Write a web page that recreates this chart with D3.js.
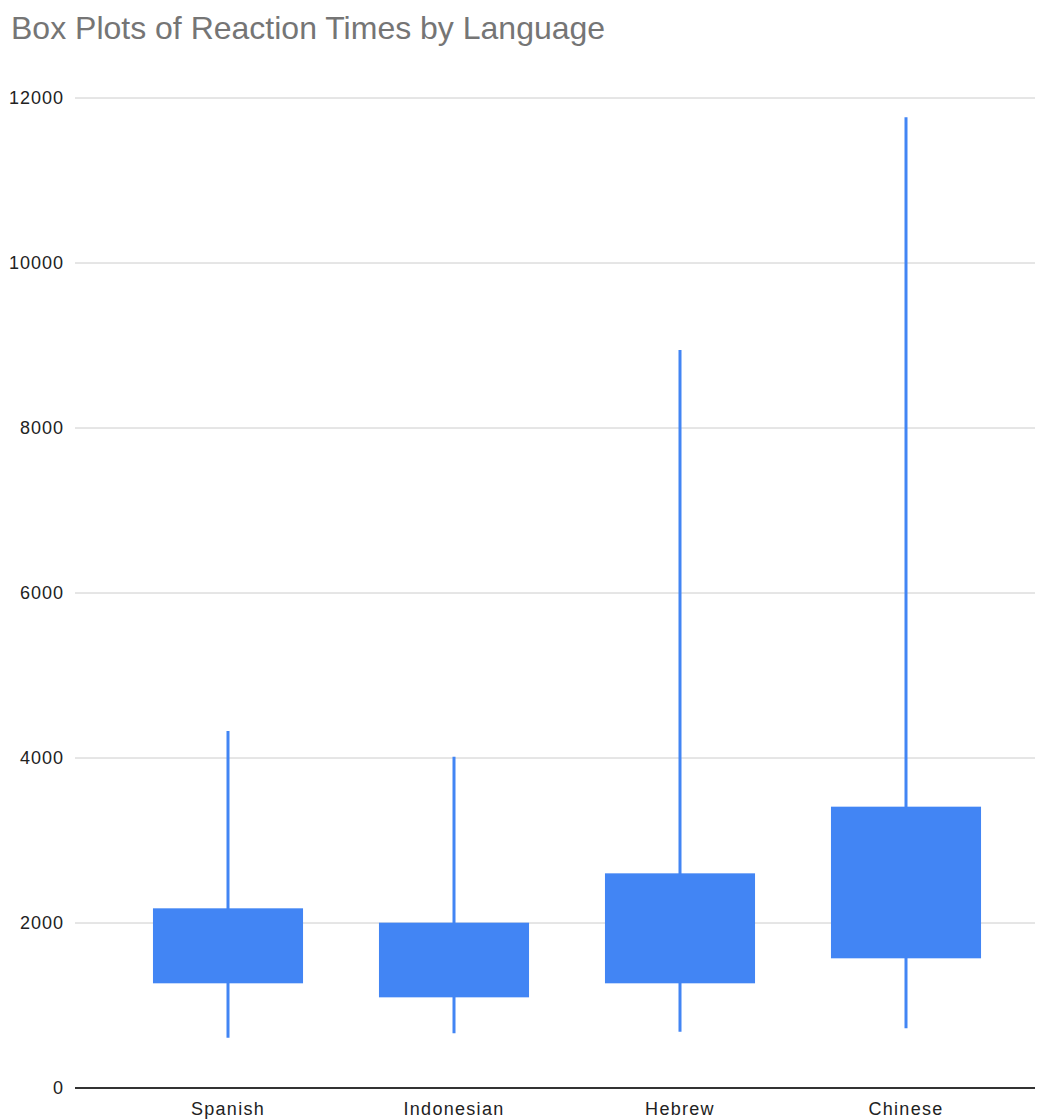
<!DOCTYPE html>
<meta charset="utf-8">
<html>
<head>
<script src="https://d3js.org/d3.v7.min.js"></script>
<style>
  body { margin: 0; background: #fff; }
  text { font-family: "Liberation Sans", Arial, sans-serif; }
</style>
</head>
<body>
<div id="chart"></div>
<script>
// data
var languages = ["Spanish", "Indonesian", "Hebrew", "Chinese"];
var whiskerLow  = [610, 663, 682, 724];
var boxLow      = [1269, 1099, 1269, 1572];
var boxHigh     = [2178, 2004, 2602, 3410];
var whiskerHigh = [4327, 4016, 8945, 11766];
var yTicks = [0, 2000, 4000, 6000, 8000, 10000, 12000];

var W = 1050, H = 1119;
var plotLeft = 75, plotRight = 1035, plotTop = 98, plotBottom = 1088;

var svg = d3.select("#chart").append("svg")
  .attr("width", W)
  .attr("height", H);

svg.append("text")
  .attr("x", 11)
  .attr("y", 39)
  .attr("fill", "#757575")
  .style("font-size", "32px")
  .text("Box Plots of Reaction Times by Language");

var y = d3.scaleLinear().domain([0, 12000]).range([plotBottom, plotTop]);
var x = d3.scaleBand().domain(languages).range([115, 1019]).paddingInner(0.336).paddingOuter(0.168);

// gridlines
svg.append("g").selectAll("line")
  .data(yTicks.filter(function(d) { return d > 0; }))
  .enter().append("line")
  .attr("x1", plotLeft).attr("x2", plotRight)
  .attr("y1", function(d) { return y(d); })
  .attr("y2", function(d) { return y(d); })
  .attr("stroke", "#cccccc")
  .attr("stroke-width", 1);

// y labels
svg.append("g").selectAll("text")
  .data(yTicks)
  .enter().append("text")
  .attr("x", 64)
  .attr("y", function(d) { return y(d); })
  .attr("dy", "0.35em")
  .attr("text-anchor", "end")
  .attr("fill", "#222")
  .style("font-size", "18px")
  .style("letter-spacing", "1px")
  .text(function(d) { return d; });

var data = languages.map(function(l, i) {
  return { name: l, lo: whiskerLow[i], q1: boxLow[i], q3: boxHigh[i], hi: whiskerHigh[i] };
});

var cx = function(d) { return x(d.name) + x.bandwidth() / 2; };

// whiskers
svg.append("g").selectAll("line")
  .data(data)
  .enter().append("line")
  .attr("x1", cx).attr("x2", cx)
  .attr("y1", function(d) { return y(d.hi); })
  .attr("y2", function(d) { return y(d.lo); })
  .attr("stroke", "#4285f4")
  .attr("stroke-width", 3);

// boxes
svg.append("g").selectAll("rect")
  .data(data)
  .enter().append("rect")
  .attr("x", function(d) { return x(d.name); })
  .attr("width", x.bandwidth())
  .attr("y", function(d) { return y(d.q3); })
  .attr("height", function(d) { return y(d.q1) - y(d.q3); })
  .attr("fill", "#4285f4");

// baseline
svg.append("line")
  .attr("x1", plotLeft).attr("x2", plotRight)
  .attr("y1", y(0)).attr("y2", y(0))
  .attr("stroke", "#333")
  .attr("stroke-width", 2);

// x labels
svg.append("g").selectAll("text")
  .data(languages)
  .enter().append("text")
  .attr("x", function(d) { return x(d) + x.bandwidth() / 2; })
  .attr("y", 1115)
  .attr("text-anchor", "middle")
  .attr("fill", "#222")
  .style("font-size", "18px")
  .style("letter-spacing", "1.3px")
  .text(function(d) { return d; });
</script>
</body>
</html>
